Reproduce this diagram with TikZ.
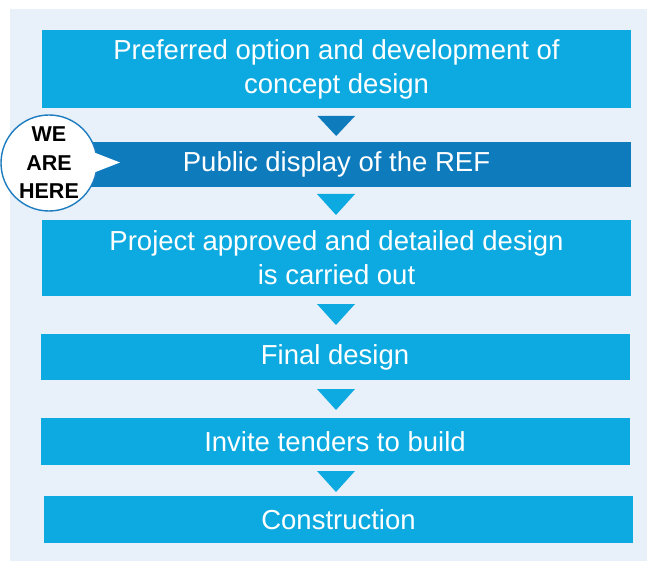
\documentclass[tikz,border=0pt]{standalone}
\usepackage{fontspec}
\setmainfont{Liberation Sans}
\definecolor{lightblue}{RGB}{12,170,224}
\definecolor{darkblue}{RGB}{14,123,189}
\definecolor{bgblue}{RGB}{232,240,250}
\definecolor{ringblue}{RGB}{30,125,192}
\tikzset{
  stepbox/.style={fill=lightblue, draw=none, text=white, minimum width=589pt, align=center,
    font=\fontsize{27.5}{34}\selectfont, inner sep=0pt},
}
\begin{document}
\begin{tikzpicture}[x=1pt,y=-1pt]
\useasboundingbox (0,0) rectangle (647,561);
\fill[bgblue] (10,9) rectangle (647,561);
% boxes
\node[stepbox, minimum height=78pt] (b1) at (336.5,69) {Preferred option and development of\\concept design};
\node[stepbox, fill=darkblue, minimum height=45pt] (b2) at (336.5,164.5) {Public display of the REF};
\node[stepbox, minimum height=76pt] (b3) at (336.5,258) {Project approved and detailed design\\is carried out};
\node[stepbox, minimum height=46pt] (b4) at (335,357) {Final design};
\node[stepbox, minimum height=47pt] (b5) at (335,441.5) {Invite tenders to build};
\node[stepbox, minimum height=47pt] (b6) at (338.5,519.5) {Construction};
% arrows
\fill[darkblue] (317.5,116) -- (355,116) -- (336.2,136) -- cycle;
\fill[lightblue] (317,194) -- (355,194) -- (336,215) -- cycle;
\fill[lightblue] (317,304) -- (355,304) -- (336,325) -- cycle;
\fill[lightblue] (317,389) -- (355,389) -- (336,410) -- cycle;
\fill[lightblue] (317,471) -- (355,471) -- (336,492) -- cycle;
% bubble
\node[circle, fill=white, draw=ringblue, line width=1.4pt, minimum size=96pt, inner sep=0pt,
  align=center, font=\fontsize{21.5}{28.5}\selectfont\bfseries] (bub) at (49,163) {WE\\ARE\\HERE};
\fill[white] (93,152) -- (120,162.5) -- (93,173) -- cycle;
\end{tikzpicture}
\end{document}
